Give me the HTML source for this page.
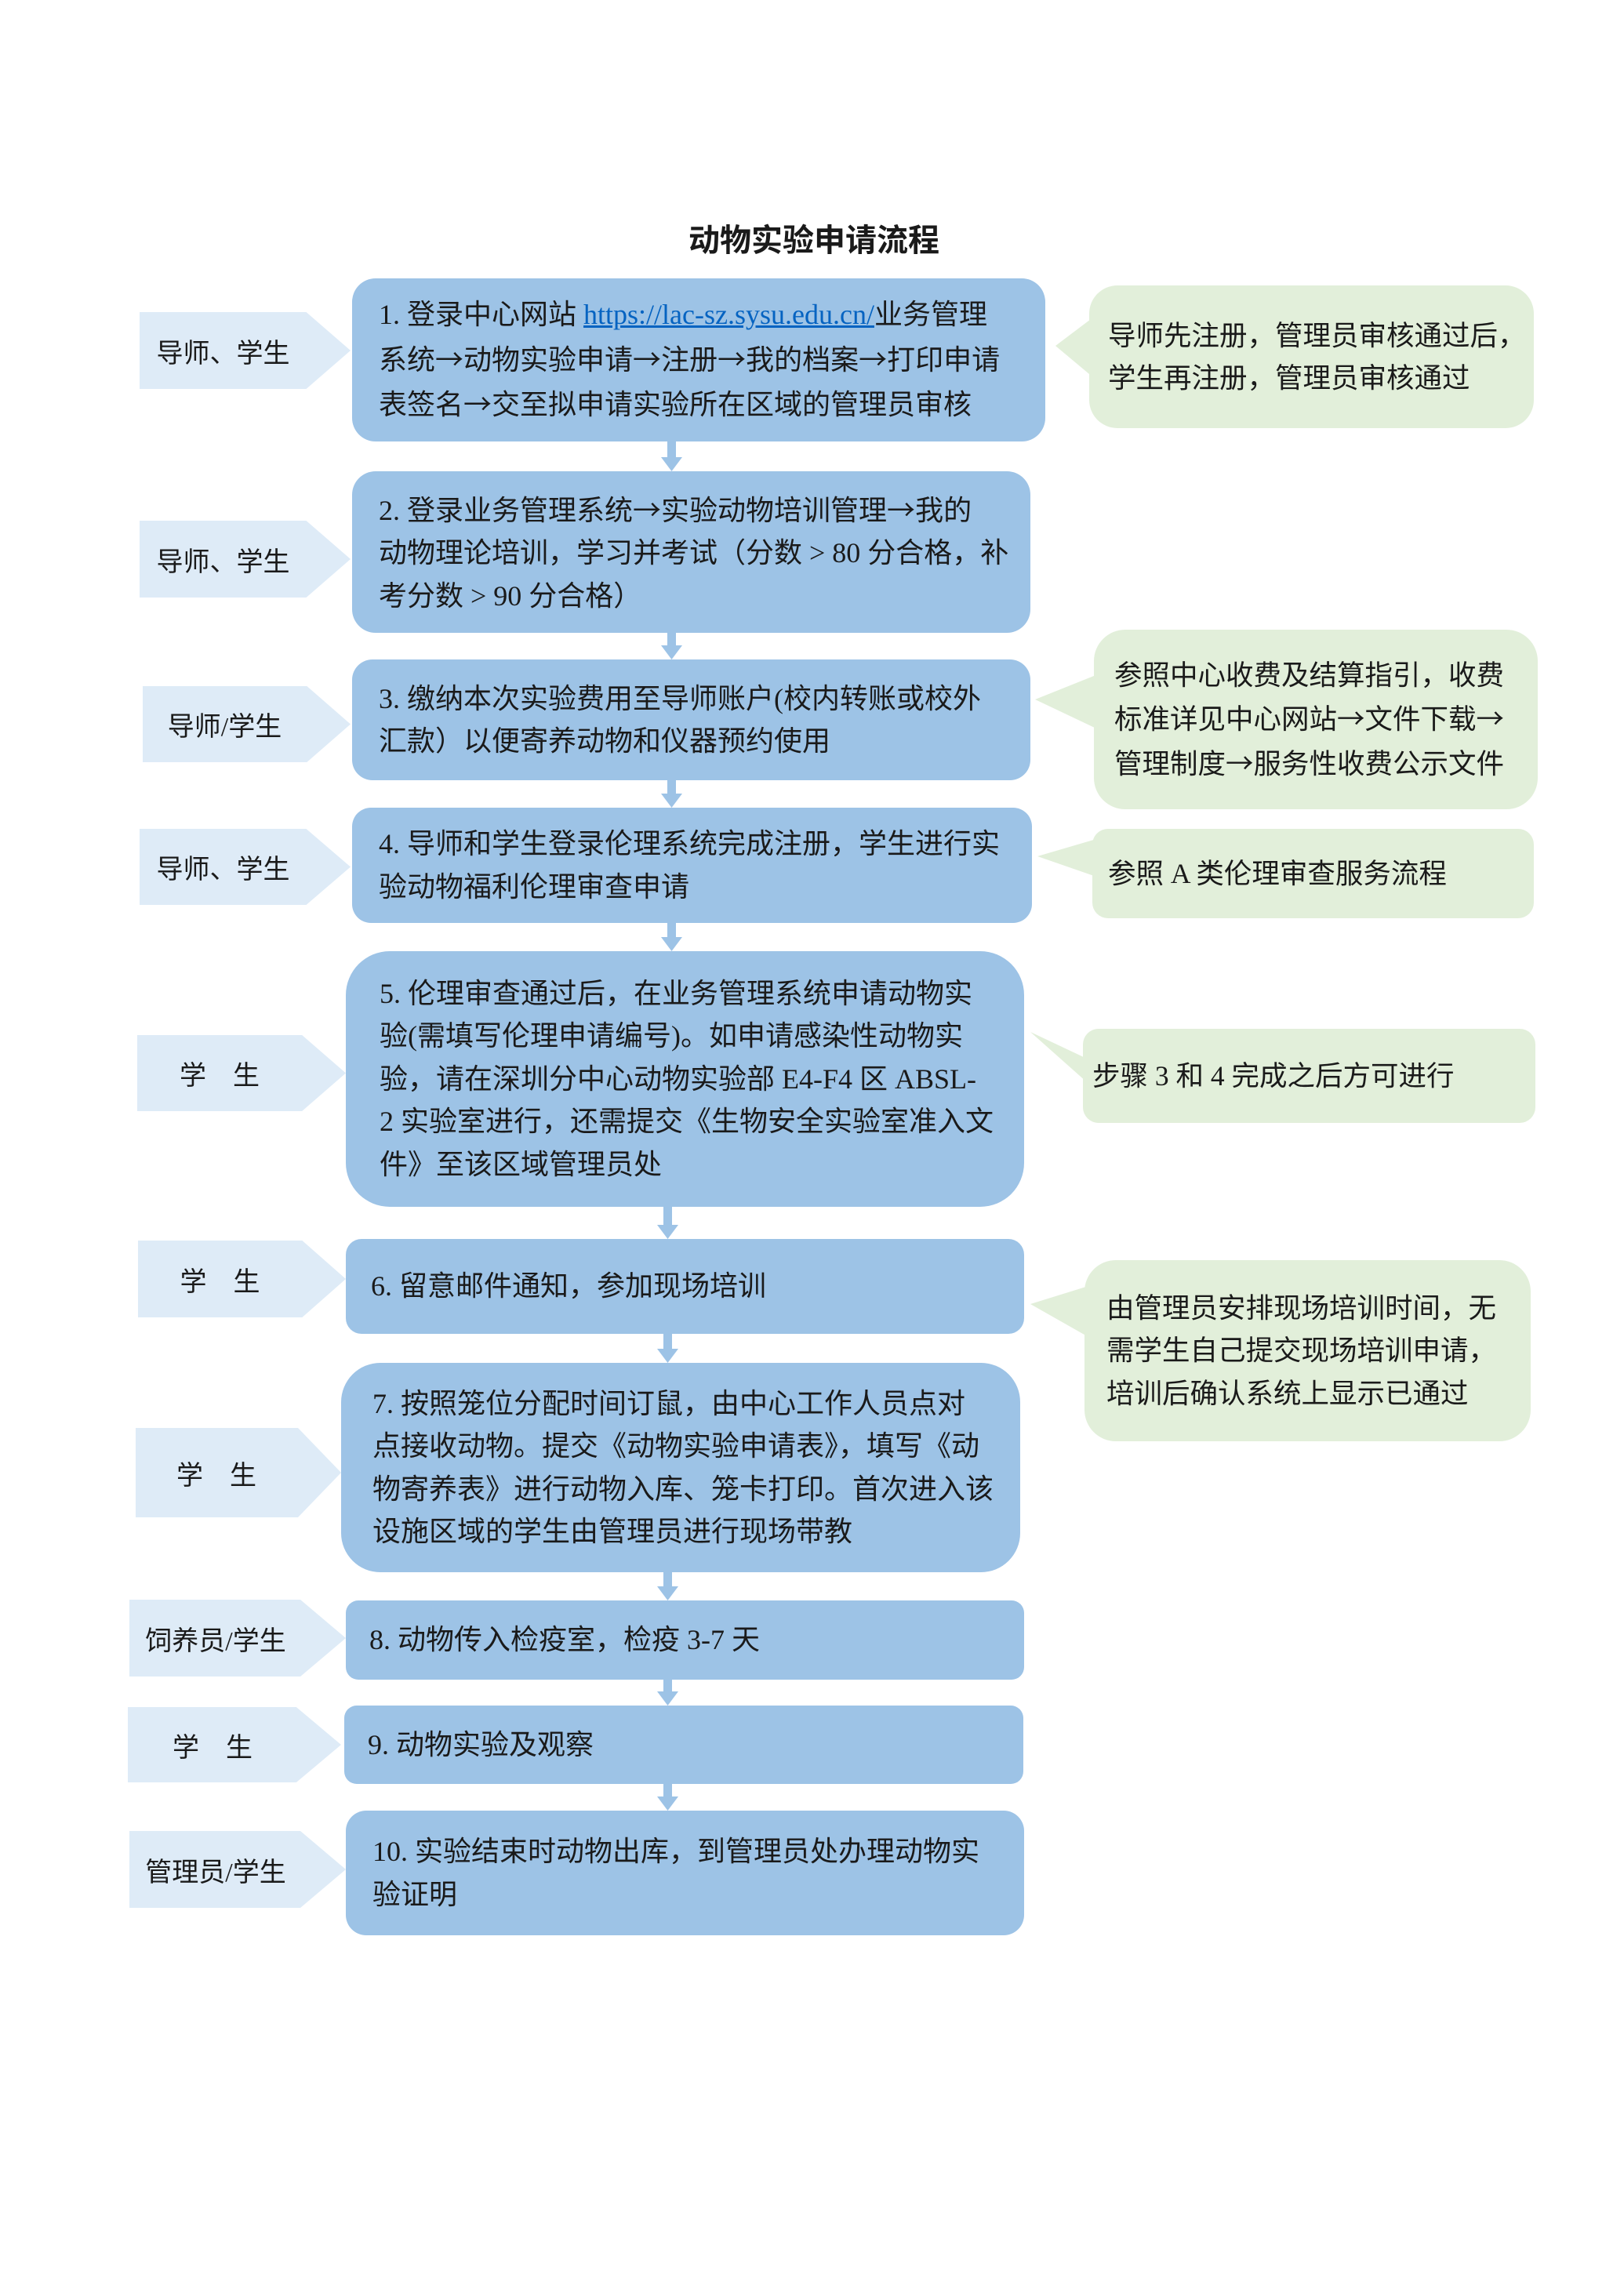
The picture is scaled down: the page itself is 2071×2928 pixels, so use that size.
<!DOCTYPE html>
<html><head><meta charset="utf-8"><style>
html,body{margin:0;padding:0;background:#fff;}
body{width:2071px;height:2928px;position:relative;overflow:hidden;font-family:"Liberation Serif","Noto Sans CJK SC",serif;color:#1a1a1a;}
.a{position:absolute;box-sizing:border-box;}
.box{background:#9dc3e6;display:flex;align-items:center;padding-left:34px;font-size:36px;line-height:54.5px;white-space:nowrap;}
.tag{background:#deebf7;clip-path:polygon(0 0,79% 0,100% 50%,79% 100%,0 100%);display:flex;align-items:center;justify-content:center;padding-right:56px;font-size:34px;white-space:nowrap;}
.note{background:#e2efda;display:flex;align-items:center;font-size:35.5px;line-height:54.5px;white-space:nowrap;}
a{color:#0563c1;text-decoration:underline;}
i{font-style:normal;font-family:"Noto Sans CJK SC",sans-serif;}
</style></head><body>
<div class="a" style="left:0;width:2076px;top:274px;text-align:center;font-size:40px;font-weight:bold;font-family:'Noto Sans CJK SC',sans-serif;">动物实验申请流程</div>

<svg class="a" style="left:0;top:0" width="2071" height="2928">
<g fill="#9dc3e6">
<rect x="851" y="560" width="11" height="26"/><polygon points="843,583 870,583 856.5,601"/>
<rect x="851" y="805" width="11" height="20"/><polygon points="843,823 870,823 856.5,841"/>
<rect x="851" y="993" width="11" height="20"/><polygon points="843,1012 870,1012 856.5,1030"/>
<rect x="851" y="1175" width="11" height="22"/><polygon points="843,1195 870,1195 856.5,1213"/>
<rect x="846" y="1537" width="11" height="27"/><polygon points="838,1562 865,1562 851.5,1580"/>
<rect x="846" y="1699" width="11" height="23"/><polygon points="838,1720 865,1720 851.5,1738"/>
<rect x="846" y="2003" width="11" height="22"/><polygon points="838,2023 865,2023 851.5,2041"/>
<rect x="846" y="2140" width="11" height="19"/><polygon points="838,2157 865,2157 851.5,2175"/>
<rect x="846" y="2273" width="11" height="20"/><polygon points="838,2291 865,2291 851.5,2309"/>
</g>
<g fill="#e2efda">
<polygon points="1395,404 1346,441 1395,482"/>
<polygon points="1400,860 1320,892 1400,930"/>
<polygon points="1398,1070 1323,1092 1398,1118"/>
<polygon points="1386,1350 1314,1316 1386,1380"/>
<polygon points="1388,1640 1314,1663 1388,1705"/>
</g>
</svg>

<div class="a tag" style="left:178px;top:398px;width:269px;height:98px;">导师、学生</div>
<div class="a tag" style="left:178px;top:664px;width:269px;height:98px;">导师、学生</div>
<div class="a tag" style="left:182px;top:875px;width:265px;height:97px;">导师/学生</div>
<div class="a tag" style="left:178px;top:1057px;width:269px;height:97px;">导师、学生</div>
<div class="a tag" style="left:175px;top:1320px;width:266px;height:97px;">学&emsp;生</div>
<div class="a tag" style="left:176px;top:1582px;width:265px;height:98px;">学&emsp;生</div>
<div class="a tag" style="left:173px;top:1821px;width:262px;height:114px;">学&emsp;生</div>
<div class="a tag" style="left:165px;top:2040px;width:276px;height:98px;">饲养员/学生</div>
<div class="a tag" style="left:163px;top:2177px;width:272px;height:96px;">学&emsp;生</div>
<div class="a tag" style="left:165px;top:2335px;width:276px;height:98px;">管理员/学生</div>

<div class="a box" style="left:449px;top:355px;width:884px;height:208px;border-radius:30px;"><div>1. 登录中心网站 <a>https://lac-sz.sysu.edu.cn/</a>业务管理<br>系统<i>→</i>动物实验申请<i>→</i>注册<i>→</i>我的档案<i>→</i>打印申请<br>表签名<i>→</i>交至拟申请实验所在区域的管理员审核</div></div>
<div class="a box" style="left:449px;top:601px;width:865px;height:206px;border-radius:30px;"><div>2. 登录业务管理系统<i>→</i>实验动物培训管理<i>→</i>我的<br>动物理论培训，学习并考试（分数 &gt; 80 分合格，补<br>考分数 &gt; 90 分合格）</div></div>
<div class="a box" style="left:449px;top:841px;width:865px;height:154px;border-radius:26px;"><div>3. 缴纳本次实验费用至导师账户(校内转账或校外<br>汇款）以便寄养动物和仪器预约使用</div></div>
<div class="a box" style="left:449px;top:1030px;width:867px;height:147px;border-radius:24px;"><div>4. 导师和学生登录伦理系统完成注册，学生进行实<br>验动物福利伦理审查申请</div></div>
<div class="a box" style="left:441px;top:1213px;width:865px;height:326px;border-radius:56px;padding-left:43px;"><div>5. 伦理审查通过后，在业务管理系统申请动物实<br>验(需填写伦理申请编号)。如申请感染性动物实<br>验，请在深圳分中心动物实验部 E4-F4 区 ABSL-<br>2 实验室进行，还需提交《生物安全实验室准入文<br>件》至该区域管理员处</div></div>
<div class="a box" style="left:441px;top:1580px;width:865px;height:121px;border-radius:20px;padding-left:32px;"><div>6. 留意邮件通知，参加现场培训</div></div>
<div class="a box" style="left:435px;top:1738px;width:866px;height:267px;border-radius:50px;padding-left:40px;"><div>7. 按照笼位分配时间订鼠，由中心工作人员点对<br>点接收动物。提交《动物实验申请表》，填写《动<br>物寄养表》进行动物入库、笼卡打印。首次进入该<br>设施区域的学生由管理员进行现场带教</div></div>
<div class="a box" style="left:441px;top:2041px;width:865px;height:101px;border-radius:16px;padding-left:30px;"><div>8. 动物传入检疫室，检疫 3-7 天</div></div>
<div class="a box" style="left:439px;top:2175px;width:866px;height:100px;border-radius:16px;padding-left:30px;"><div>9. 动物实验及观察</div></div>
<div class="a box" style="left:441px;top:2309px;width:865px;height:159px;border-radius:26px;padding-left:34px;"><div>10. 实验结束时动物出库，到管理员处办理动物实<br>验证明</div></div>

<div class="a note" style="left:1389px;top:364px;width:567px;height:182px;border-radius:36px;padding-left:24px;"><div>导师先注册，管理员审核通过后，<br>学生再注册，管理员审核通过</div></div>
<div class="a note" style="left:1395px;top:803px;width:566px;height:229px;border-radius:40px;padding-left:26px;"><div>参照中心收费及结算指引，收费<br>标准详见中心网站<i>→</i>文件下载<i>→</i><br>管理制度<i>→</i>服务性收费公示文件</div></div>
<div class="a note" style="left:1393px;top:1057px;width:563px;height:114px;border-radius:20px;padding-left:20px;"><div>参照 A 类伦理审查服务流程</div></div>
<div class="a note" style="left:1381px;top:1312px;width:577px;height:120px;border-radius:20px;padding-left:12px;"><div>步骤 3 和 4 完成之后方可进行</div></div>
<div class="a note" style="left:1383px;top:1607px;width:569px;height:231px;border-radius:40px;padding-left:28px;"><div>由管理员安排现场培训时间，无<br>需学生自己提交现场培训申请，<br>培训后确认系统上显示已通过</div></div>
</body></html>
